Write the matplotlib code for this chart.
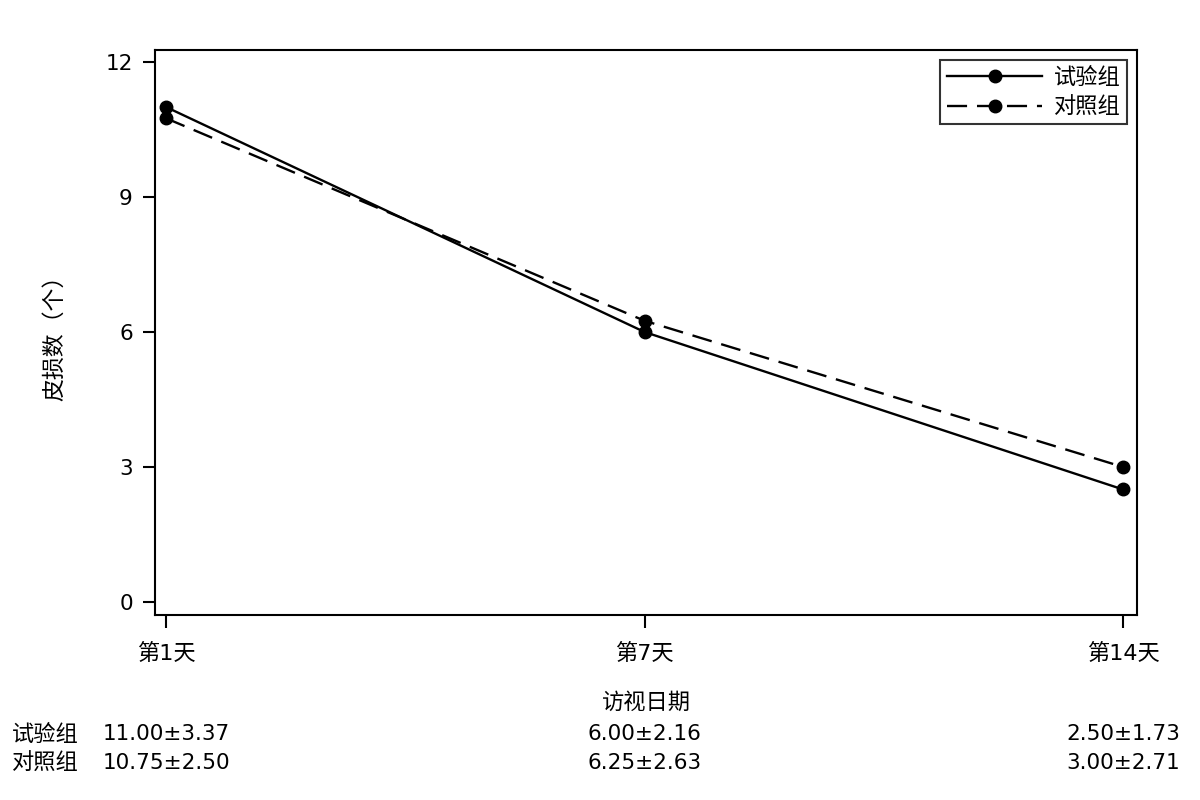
import matplotlib
matplotlib.use("Agg")
import matplotlib.pyplot as plt
import matplotlib.transforms as mtransforms

plt.rcParams['font.family'] = ['DejaVu Sans', 'Noto Sans CJK SC']

categories = ["第1天", "第7天", "第14天"]
series_names = ["试验组", "对照组"]
test_means = [11.00, 6.00, 2.50]
ctrl_means = [10.75, 6.25, 3.00]
test_sd = [3.37, 2.16, 1.73]
ctrl_sd = [2.50, 2.63, 2.71]
y_ticks = [0, 3, 6, 9, 12]

NUM_FS = 15.5
CJK_FS = 16

fig = plt.figure(figsize=(12, 8), dpi=100)
ax = fig.add_axes([155/1200, 1-615/800, (1137-155)/1200, (615-50)/800])

x = list(range(len(categories)))
ax.plot(x, test_means, color='black', lw=1.7, marker='o', ms=9,
        label=series_names[0])
ax.plot(x, ctrl_means, color='black', lw=1.7, marker='o', ms=9,
        dashes=(8.5, 4.2), label=series_names[1])

ax.set_xlim(-0.023, 2.029)
ax.set_ylim(-0.289, 12.267)
ax.set_xticks(x)
ax.set_xticklabels(categories, fontsize=CJK_FS)
ax.set_yticks(y_ticks)
ax.tick_params(axis='both', length=9, width=1.5, direction='out')
ax.tick_params(axis='y', labelsize=NUM_FS, pad=7)
ax.tick_params(axis='x', pad=11)
for s in ax.spines.values():
    s.set_linewidth(1.5)

ax.set_xlabel("访视日期", fontsize=CJK_FS, labelpad=20)
ax.set_ylabel("皮损数（个）", fontsize=16.5, labelpad=28)

leg = ax.legend(loc='upper right', fontsize=CJK_FS, handlelength=4.3,
                frameon=True, fancybox=False, borderaxespad=0.45,
                borderpad=0.3, labelspacing=0.4, handletextpad=0.5)
leg.get_frame().set_edgecolor('black')
leg.get_frame().set_linewidth(1.5)

trans = mtransforms.blended_transform_factory(ax.transData, fig.transFigure)
rows_y = [1-734/800, 1-763/800]
for row_y, name, means, sds in [(rows_y[0], series_names[0], test_means, test_sd),
                                (rows_y[1], series_names[1], ctrl_means, ctrl_sd)]:
    fig.text(12/1200, row_y, name, fontsize=CJK_FS, ha='left', va='center')
    for xi, m, s in zip(x, means, sds):
        ax.text(xi, row_y, f"{m:.2f}±{s:.2f}", transform=trans, fontsize=NUM_FS,
                ha='center', va='center', clip_on=False)

fig.savefig("out.png", dpi=100)
